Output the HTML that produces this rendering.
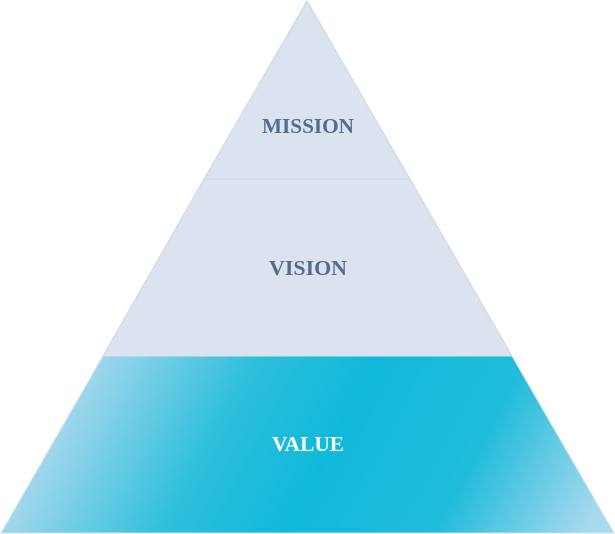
<!DOCTYPE html>
<html><head><style>html,body{margin:0;padding:0;background:#fff;width:615px;height:534px;overflow:hidden}</style></head>
<body>
<svg width="615" height="534" viewBox="0 0 615 534" xmlns="http://www.w3.org/2000/svg">
<defs>
<linearGradient id="g" x1="90" y1="330" x2="560" y2="580" gradientUnits="userSpaceOnUse">
<stop offset="0" stop-color="#b0daee"/>
<stop offset="0.3" stop-color="#2ebfdc"/>
<stop offset="0.5" stop-color="#10b9da"/>
<stop offset="0.75" stop-color="#20bcdb"/>
<stop offset="1" stop-color="#a9d9ee"/>
</linearGradient>
</defs>
<polygon points="307,1 410,179 204,179" fill="#dae3ef" stroke="#cfd6df" stroke-width="1"/>
<polygon points="204,179 410,179 512,356 103,356" fill="#dce3ee" stroke="#cfd6df" stroke-width="1"/>
<polygon points="103,356 512,356 614,533 1,533" fill="url(#g)" stroke="#cfe4ee" stroke-width="1"/>
<g font-family="Liberation Serif, serif" font-size="21" font-weight="bold" text-anchor="middle">
<text x="308" y="133" fill="#526d8f" textLength="92" lengthAdjust="spacingAndGlyphs">MISSION</text>
<text x="308" y="275" fill="#526d8f" textLength="78" lengthAdjust="spacingAndGlyphs">VISION</text>
<text x="308" y="451" fill="#ffffff" textLength="72" lengthAdjust="spacingAndGlyphs">VALUE</text>
</g>
</svg>
</body></html>
